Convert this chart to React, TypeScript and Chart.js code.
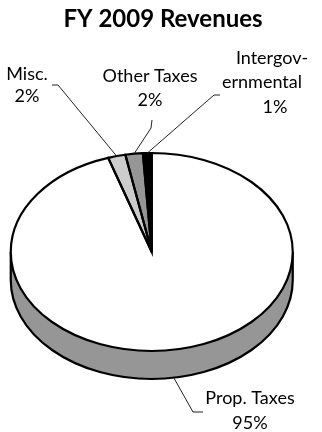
import { useEffect, useRef } from "react";
import { Chart, registerables } from "chart.js";

Chart.register(...registerables);

// Revenue sources, in drawing order (clockwise from 12 o'clock)
const categories = ["Prop. Taxes", "Misc.", "Other Taxes", "Intergovernmental"];
const shares = [95, 2, 2, 1];
const percentLabels = ["95%", "2%", "2%", "1%"];
const nameLines = [["Prop. Taxes"], ["Misc."], ["Other Taxes"], ["Intergov-", "ernmental"]];
const chartTitle = "FY 2009 Revenues";

const topColors = ["#ffffff", "#cccccc", "#969696", "#000000"];
const sideColors = ["#969696", "#a8a8a8", "#777777", "#000000"];

// Vertical squash of the pie disc and the thickness of its rim
const TILT = 99 / 141;
const DEPTH = 28;
const FONT = "'Gill Sans', 'Gill Sans MT', Lato, sans-serif";

// Label block placement: text line centres and the bend points of each leader
const labelLayout = [
  { lines: [[250, 398], [250, 423]], leader: [[203, 412], [193, 412]], onRim: true },
  { lines: [[27, 74], [27, 96]], leader: [[52, 85], [58, 85]], onRim: false },
  { lines: [[150, 76], [150, 100]], leader: [[152, 120], [151, 128]], onRim: false },
  { lines: [[272, 58], [262, 82], [275, 107]], leader: [[220, 95], [214, 95]], onRim: false },
];

function arcProps(arc: any) {
  return arc.getProps(["x", "y", "startAngle", "endAngle", "outerRadius"], true);
}

const pie3d = {
  id: "pie3d",
  beforeDatasetsDraw(chart: any) {
    const ctx: CanvasRenderingContext2D = chart.ctx;
    const arcs = chart.getDatasetMeta(0).data;
    const p0 = arcProps(arcs[0]);
    const cx = p0.x, cy = p0.y, rx = p0.outerRadius, ry = rx * TILT;

    // rim (side wall) for the front half of every slice
    arcs.forEach((arc: any, i: number) => {
      const p = arcProps(arc);
      for (let k = -1; k <= 1; k++) {
        const lo = Math.max(p.startAngle, 2 * Math.PI * k);
        const hi = Math.min(p.endAngle, 2 * Math.PI * k + Math.PI);
        if (hi <= lo) continue;
        ctx.beginPath();
        ctx.ellipse(cx, cy, rx, ry, 0, lo, hi);
        ctx.ellipse(cx, cy + DEPTH, rx, ry, 0, hi, lo, true);
        ctx.closePath();
        ctx.fillStyle = sideColors[i];
        ctx.fill();
      }
    });

    // rim outline
    ctx.save();
    ctx.strokeStyle = "#000";
    ctx.lineWidth = 2.2;
    ctx.lineJoin = "round";
    ctx.beginPath();
    ctx.moveTo(cx + rx, cy);
    ctx.lineTo(cx + rx, cy + DEPTH);
    ctx.ellipse(cx, cy + DEPTH, rx, ry, 0, 0, Math.PI);
    ctx.lineTo(cx - rx, cy);
    ctx.stroke();
    arcs.forEach((arc: any) => {
      const a = arcProps(arc).startAngle;
      const n = ((a % (2 * Math.PI)) + 2 * Math.PI) % (2 * Math.PI);
      if (n > 0 && n < Math.PI) {
        const x = cx + rx * Math.cos(n), y = cy + ry * Math.sin(n);
        ctx.beginPath();
        ctx.moveTo(x, y);
        ctx.lineTo(x, y + DEPTH);
        ctx.stroke();
      }
    });
    ctx.restore();

    // squash the disc the library draws next
    ctx.save();
    ctx.translate(0, cy);
    ctx.scale(1, TILT);
    ctx.translate(0, -cy);
  },
  afterDatasetsDraw(chart: any) {
    const ctx: CanvasRenderingContext2D = chart.ctx;
    ctx.restore();
    const arcs = chart.getDatasetMeta(0).data;
    ctx.save();
    ctx.strokeStyle = "#000";
    ctx.lineWidth = 2.2;
    ctx.lineJoin = "miter";
    arcs.forEach((arc: any) => {
      const p = arcProps(arc);
      const rx = p.outerRadius, ry = rx * TILT;
      ctx.beginPath();
      ctx.moveTo(p.x, p.y);
      ctx.ellipse(p.x, p.y, rx, ry, 0, p.startAngle, p.endAngle);
      ctx.closePath();
      ctx.stroke();
    });
    ctx.restore();
  },
  afterDraw(chart: any) {
    const ctx: CanvasRenderingContext2D = chart.ctx;
    const arcs = chart.getDatasetMeta(0).data;
    ctx.save();
    ctx.fillStyle = "#000";
    ctx.textAlign = "center";
    ctx.textBaseline = "middle";
    ctx.font = `bold 24px ${FONT}`;
    ctx.fillText(chartTitle, 163, 19);

    ctx.font = `18px ${FONT}`;
    labelLayout.forEach((lay, i) => {
      const texts = [...nameLines[i], percentLabels[i]];
      texts.forEach((t, j) => {
        const [x, y] = lay.lines[j];
        ctx.fillText(t, x, y);
      });
      // leader from label to slice edge at the slice's mid angle
      const p = arcProps(arcs[i]);
      const mid = (p.startAngle + p.endAngle) / 2;
      const rx = p.outerRadius, ry = rx * TILT;
      const ex = p.x + rx * Math.cos(mid);
      const ey = p.y + ry * Math.sin(mid) + (lay.onRim ? DEPTH : 0);
      ctx.strokeStyle = "#222";
      ctx.lineWidth = 1;
      ctx.beginPath();
      lay.leader.forEach(([x, y], k) => (k === 0 ? ctx.moveTo(x, y) : ctx.lineTo(x, y)));
      ctx.lineTo(ex, ey);
      ctx.stroke();
    });
    ctx.restore();
  },
};

export default function App() {
  const ref = useRef<HTMLCanvasElement>(null);
  useEffect(() => {
    document.body.style.margin = "0";
    const chart = new Chart(ref.current!, {
      type: "pie",
      data: {
        labels: categories,
        datasets: [
          {
            data: shares,
            backgroundColor: topColors,
            borderWidth: 0,
            clip: false as any,
          },
        ],
      },
      options: {
        responsive: false,
        animation: false,
        events: [],
        layout: { padding: { left: 10.75, right: 29.25, top: 111, bottom: 39 } },
        plugins: { legend: { display: false }, tooltip: { enabled: false }, title: { display: false } },
      },
      plugins: [pie3d],
    });
    return () => chart.destroy();
  }, []);
  return <canvas ref={ref} width={322} height={432} style={{ display: "block" }} />;
}
